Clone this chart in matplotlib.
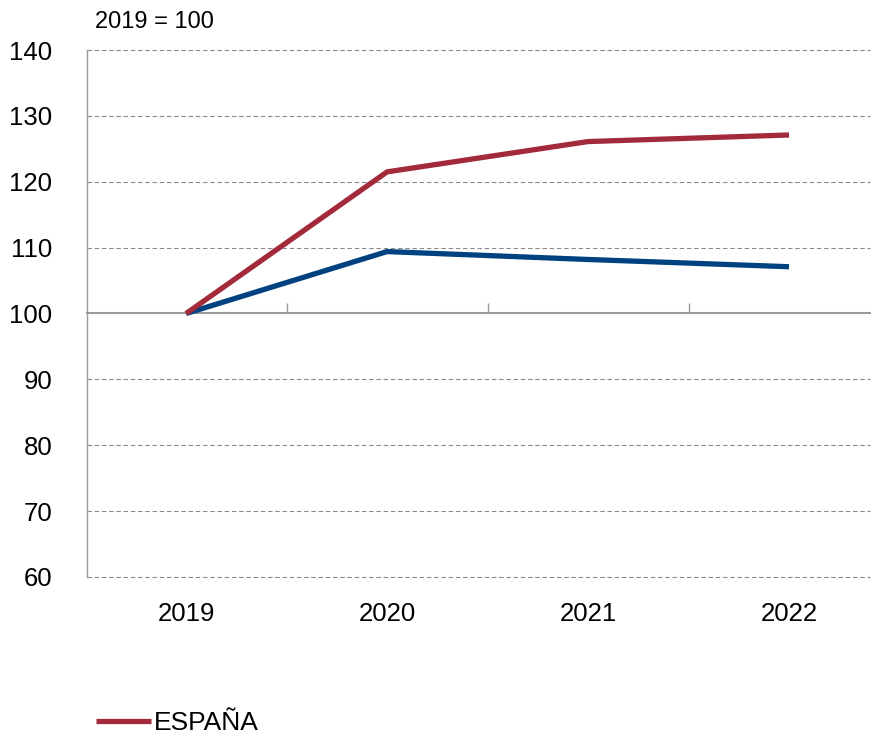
import matplotlib
matplotlib.use("Agg")
import matplotlib.pyplot as plt
from matplotlib.lines import Line2D

plt.rcParams['font.family'] = ['Liberation Sans', 'DejaVu Sans']

years = ['2019', '2020', '2021', '2022']
espana = [100.0, 121.5, 126.1, 127.1]
other = [100.0, 109.4, 108.2, 107.1]
yticks = [60, 70, 80, 90, 100, 110, 120, 130, 140]

red = '#A32A3B'
blue = '#00417F'

fig = plt.figure(figsize=(8.71, 7.37), dpi=100)
ax = fig.add_axes([87/871, 1-577/737, (870-87)/871, (577-50)/737])

x = list(range(len(years)))
ax.plot(x, other, color=blue, lw=3.8, solid_capstyle='butt', zorder=3)
ax.plot(x, espana, color=red, lw=3.8, solid_capstyle='butt', zorder=4, label='ESPAÑA')

ax.set_ylim(60, 140)
ax.set_xlim(-0.493, 3.403)
ax.set_yticks(yticks)
ax.set_yticklabels([str(v) for v in yticks], fontsize=18.5)
ax.tick_params(axis='y', length=0, pad=25)

ax.set_xticks(x)
ax.set_xticklabels(years, fontsize=18.5)
ax.tick_params(axis='x', length=0, pad=18)

for s in ['top', 'right', 'bottom']:
    ax.spines[s].set_visible(False)
ax.spines['left'].set_color('#9a9a9a')
ax.spines['left'].set_linewidth(1.0)

ax.grid(axis='y', color='#8a8a8a', linestyle=(0, (4, 2.5)), linewidth=0.8)
for v, gl in zip(yticks, ax.get_ygridlines()):
    gl.set_clip_on(False)
    if v == 100:
        gl.set_visible(False)
ax.set_axisbelow(True)

# category axis at 100 (axes fraction 0.5)
sec = ax.secondary_xaxis(0.5)
sec.set_xticks([0.5, 1.5, 2.5])
sec.set_xticklabels([])
sec.tick_params(axis='x', direction='out', length=7, width=1.0, color='#9a9a9a')
for sp in sec.spines.values():
    sp.set_color('#9a9a9a')
    sp.set_linewidth(1.5)

fig.text(95/871, 1-22/737, '2019 = 100', fontsize=17, va='center', ha='left')

handle = Line2D([], [], color=red, lw=3.8, solid_capstyle='butt')
fig.legend([handle], ['ESPAÑA'], loc='center left',
           bbox_to_anchor=(96/871, 1-723/737), frameon=False, fontsize=19,
           handlelength=2.1, handletextpad=0.1, borderpad=0, borderaxespad=0)

fig.savefig('out.png', dpi=100)
